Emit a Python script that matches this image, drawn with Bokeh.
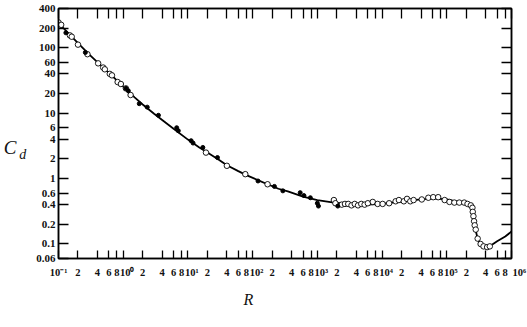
from bokeh.plotting import figure
from bokeh.models import FixedTicker, LogAxis, Title
from bokeh.embed import file_html
from bokeh.resources import INLINE

# ---- data (sphere drag coefficient vs Reynolds number) ----
curve_re = [0.1, 0.2, 0.3, 0.5, 0.7, 1, 1.5, 2, 3, 4, 6, 10, 15, 20, 30, 40, 60, 80,
            120, 170, 250, 350, 600, 1000, 1800, 3000, 6000, 1e4, 2e4, 4e4, 6e4, 1e5,
            1.5e5, 2e5, 2.35e5, 2.5e5, 2.58e5, 2.65e5, 2.8e5, 3e5, 3.3e5, 3.7e5, 4.2e5,
            4.6e5, 6e5, 8e5, 1e6]
curve_cd = [240, 118, 79, 49, 36, 25.5, 17.5, 13.6, 9.8, 7.9, 5.8, 3.95, 3.0, 2.5, 1.95,
            1.6, 1.3, 1.13, 0.95, 0.82, 0.70, 0.64, 0.53, 0.47, 0.43, 0.41, 0.40, 0.41,
            0.45, 0.48, 0.50, 0.48, 0.44, 0.42, 0.39, 0.34, 0.27, 0.22, 0.16, 0.12, 0.10,
            0.09, 0.089, 0.092, 0.11, 0.13, 0.155]

open_re = [0.1, 0.11, 0.15, 0.16, 0.2, 0.28, 0.41, 0.49, 0.52, 0.62, 0.67, 0.82, 0.92,
           1.1, 1.3, 19, 40, 77, 170, 1800, 1900, 2380, 2670, 3000, 3370, 3780, 4250,
           4770, 5370, 6030, 7180, 8550, 10200, 12850, 16200, 18200, 21700, 24300,
           27300, 30700, 41100, 51900, 61700, 73600, 92700, 110000, 131000, 156000,
           186000, 209000, 235000, 249000, 252000, 258000, 264000, 270000, 280000,
           300000, 333000, 370000, 420000, 462000]
open_cd = [245, 225, 155, 148, 112, 80, 58, 50, 47, 40, 38, 30, 28, 24, 19, 2.5, 1.57,
           1.17, 0.82, 0.47, 0.42, 0.40, 0.41, 0.41, 0.39, 0.41, 0.39, 0.41, 0.40, 0.42,
           0.44, 0.41, 0.41, 0.42, 0.45, 0.47, 0.45, 0.49, 0.45, 0.47, 0.48, 0.51, 0.52,
           0.52, 0.47, 0.44, 0.43, 0.43, 0.43, 0.41, 0.39, 0.358, 0.31, 0.266, 0.223,
           0.193, 0.166, 0.121, 0.10, 0.092, 0.0896, 0.092]

dot_re = [0.13, 0.26, 1.1, 1.2, 1.77, 2.35, 3.5, 6.7, 7.1, 11.2, 12, 17, 28.6, 121,
          217, 293, 543, 620, 780, 1000, 1040, 2070]
dot_cd = [170, 85, 24, 22, 14, 12.4, 9.3, 6.0, 5.4, 3.8, 3.5, 3.0, 2.1, 0.92, 0.76,
          0.65, 0.61, 0.55, 0.51, 0.42, 0.38, 0.38]

y_ticks = [400, 200, 100, 60, 40, 20, 10, 6, 4, 2, 1, 0.6, 0.4, 0.2, 0.1, 0.06]
y_tick_labels = ["400", "200", "100", "60", "40", "20", "10", "6", "4", "2", "1",
                 "0.6", "0.4", "0.2", "0.1", "0.06"]
x_decades = [0.1, 1, 10, 100, 1000, 1e4, 1e5, 1e6]
x_decade_labels = ["10⁻¹", "10⁰", "10¹", "10²", "10³", "10⁴", "10⁵", "10⁶"]
x_multipliers = [2, 4, 6, 8]
x_multiplier_labels = ["2", "4", "6", "8"]

x_sub = [m * d for d in x_decades[:-1] for m in x_multipliers]
x_sub_labels = [lab for d in x_decades[:-1] for lab in x_multiplier_labels]
x_ticks = x_decades + x_sub
# non-breaking spaces nudge the decade labels to the right, as in the original
NB = "\u00a0"
pads = [""] + [NB * 3] * 6 + [NB * 6]
x_overrides = {t: pad + l for t, l, pad in zip(x_decades, x_decade_labels, pads)}
x_overrides.update({t: l for t, l in zip(x_sub, x_sub_labels)})

TICK_FONT = "Liberation Sans Narrow"
TITLE_FONT = "Liberation Serif"
INK = "#111111"

p = figure(width=527, height=327, x_axis_type="log", y_axis_type="log",
           x_range=(0.1, 1e6), y_range=(0.06, 400),
           output_backend="svg", toolbar_location=None,
           min_border_left=49, min_border_right=16, min_border_top=8, min_border_bottom=69)
p.background_fill_color = "white"
p.border_fill_color = "white"
p.grid.visible = False
p.outline_line_color = "black"
p.outline_line_width = 1.5

# left axis (tick labels + subscript "d" of the title)
ya = p.yaxis[0]
ya.ticker = FixedTicker(ticks=y_ticks)
ya.major_label_overrides = {t: l for t, l in zip(y_ticks, y_tick_labels)}
ya.major_tick_in = 10
ya.major_tick_out = 0
ya.minor_tick_line_color = None
ya.major_tick_line_width = 1.3
ya.axis_line_width = 1.5
ya.major_label_standoff = 3
ya.major_label_text_font = TICK_FONT
ya.major_label_text_font_style = "bold"
ya.major_label_text_font_size = "11px"
ya.major_label_text_color = INK
ya.axis_label = "\n\nd"
ya.axis_label_orientation = "horizontal"
ya.axis_label_standoff = 7
ya.axis_label_text_font = TITLE_FONT
ya.axis_label_text_font_style = "italic"
ya.axis_label_text_font_size = "14px"
ya.axis_label_text_line_height = 1.4
ya.axis_label_text_color = INK

# outer left axis carrying the "C" of the title
c_axis = LogAxis(ticker=FixedTicker(ticks=[]), axis_label="\nC",
                 axis_label_orientation="horizontal", axis_line_color=None,
                 major_tick_line_color=None, minor_tick_line_color=None,
                 major_label_text_color=None, major_label_text_font_size="1px",
                 major_label_standoff=0, axis_label_standoff=0,
                 axis_label_text_font=TITLE_FONT, axis_label_text_font_style="italic",
                 axis_label_text_font_size="19px", axis_label_text_line_height=1.35,
                 axis_label_text_color=INK)
p.add_layout(c_axis, "left")

# bottom axis
xa = p.xaxis[0]
xa.ticker = FixedTicker(ticks=x_ticks)
xa.major_label_overrides = x_overrides
xa.major_tick_in = 8
xa.major_tick_out = 0
xa.minor_tick_line_color = None
xa.major_tick_line_width = 1.3
xa.axis_line_width = 1.5
xa.major_label_standoff = 8
xa.major_label_text_font = TICK_FONT
xa.major_label_text_font_style = "bold"
xa.major_label_text_font_size = "10.5px"
xa.major_label_text_color = INK

# top and right axes (ticks only)
top = LogAxis(ticker=FixedTicker(ticks=x_ticks), major_tick_in=10, major_tick_out=0,
              minor_tick_line_color=None, major_label_text_color=None,
              major_label_text_font_size="1px", major_label_standoff=0,
              axis_line_width=1.5, major_tick_line_width=1.3)
top.major_label_overrides = {t: "" for t in x_ticks}
p.add_layout(top, "above")
right = LogAxis(ticker=FixedTicker(ticks=y_ticks), major_tick_in=10, major_tick_out=0,
                minor_tick_line_color=None, major_label_text_color=None,
                major_label_text_font_size="1px", major_label_standoff=0,
                axis_line_width=1.5, major_tick_line_width=1.3)
right.major_label_overrides = {t: "" for t in y_ticks}
p.add_layout(right, "right")

# x-axis title "R", placed under 10^2 as in the original
p.add_layout(Title(text="R", align="left", offset=185, standoff=16,
                   text_font=TITLE_FONT, text_font_style="italic",
                   text_font_size="16px", text_color=INK), "below")

# data
p.line(curve_re, curve_cd, line_color="black", line_width=1.8)
p.scatter(open_re, open_cd, marker="circle", size=5.5, fill_color="white",
          line_color="black", line_width=0.9)
p.scatter(dot_re, dot_cd, marker="circle", size=4, fill_color="black", line_color="black")

open("out.html", "w").write(file_html(p, INLINE))
